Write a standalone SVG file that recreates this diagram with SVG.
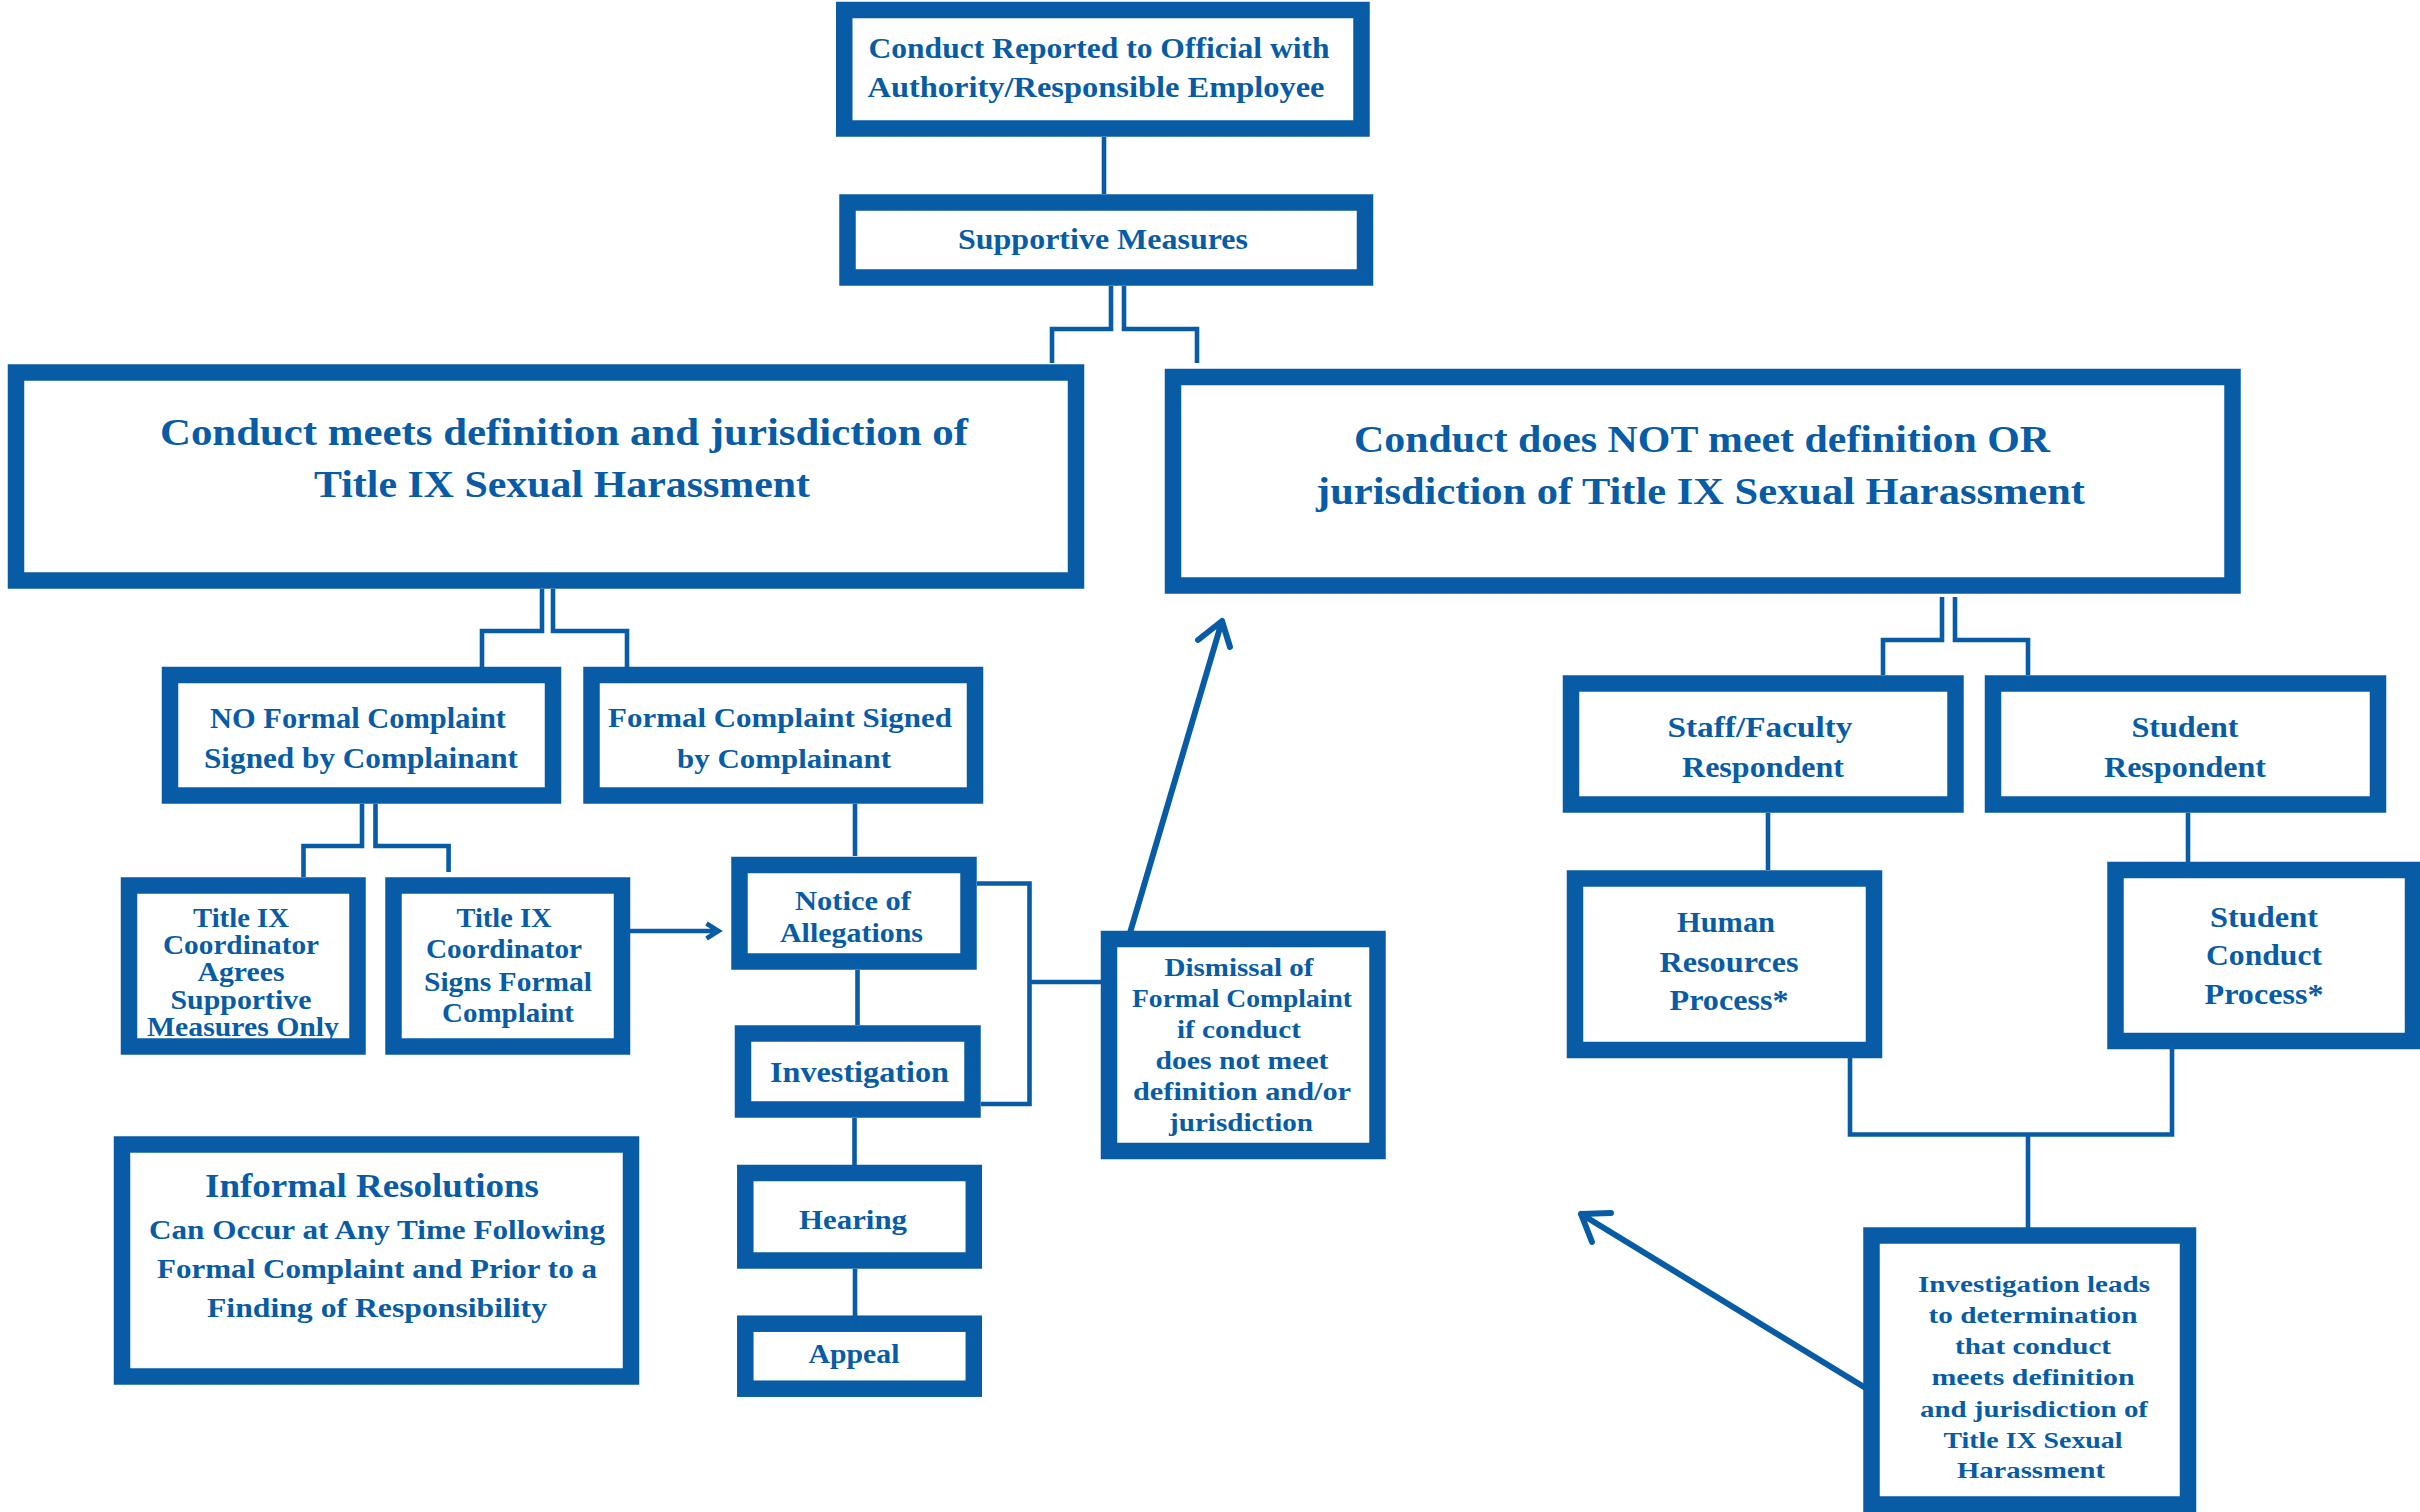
<svg xmlns="http://www.w3.org/2000/svg" width="2420" height="1512" viewBox="0 0 2420 1512">
<style>
.bx{fill:#ffffff;stroke:#085ca6;stroke-width:16.5}
.t{fill:#085ca6;font-family:"Liberation Serif","Times New Roman",serif;font-weight:bold;text-anchor:middle}
.c{fill:none;stroke:#085ca6;stroke-width:4.6}
.a{fill:none;stroke:#085ca6;stroke-width:6;stroke-linecap:round;stroke-linejoin:round}
</style>
<rect width="2420" height="1512" fill="#ffffff"/>
<g id="connectors">
<path class="c" d="M1104,137 V194" stroke-width="5"/>
<path class="c" d="M1111,286 V329 H1052 V363 M1124,286 V329 H1197 V363"/>
<path class="c" d="M542,589 V631 H482 V667 M553,589 V631 H627 V667"/>
<path class="c" d="M362,804 V846 H303.5 V877 M375.5,804 V846 H448.6 V872"/>
<path class="c" d="M1942,597 V640 H1883 V675 M1955,597 V640 H2028 V675"/>
<path class="c" d="M630,931 H718 M706.5,923.5 L718.5,931 L706.5,938.5" stroke-width="3"/>
<path class="c" d="M855,804 V856" stroke-width="5"/>
<path class="c" d="M857.5,970 V1025" stroke-width="5"/>
<path class="c" d="M854.5,1118 V1165" stroke-width="5"/>
<path class="c" d="M855,1269 V1316" stroke-width="5"/>
<path class="c" d="M977,883.5 H1029.5 V1104 H981" stroke-width="6"/>
<path class="c" d="M1029.5,982 H1102" stroke-width="7"/>
<path class="a" d="M1127,943 L1222,621 M1198,640 L1222,621 L1230,647"/>
<path class="c" d="M1768,813 V870" stroke-width="5.5"/>
<path class="c" d="M2188,813 V862" stroke-width="5.5"/>
<path class="c" d="M1850,1058 V1134.5 H2172 V1049" stroke-width="9"/>
<path class="c" d="M2028,1134.5 V1228" stroke-width="10"/>
<path class="a" d="M1864,1387 L1581,1214 M1611,1213 L1581,1214 L1592,1242"/>
</g>
<g id="n-reported">
<rect class="bx" x="844.25" y="10" width="517.25" height="118.5"/>
<text class="t" font-size="30" x="1099" y="58" textLength="461" lengthAdjust="spacingAndGlyphs">Conduct Reported to Official with</text>
<text class="t" font-size="30" x="1096" y="97" textLength="457" lengthAdjust="spacingAndGlyphs">Authority/Responsible Employee</text>
</g>
<g id="n-supportive">
<rect class="bx" x="847.5" y="202.5" width="517.5" height="75" stroke-width="17"/>
<text class="t" font-size="29" x="1103" y="249" textLength="290" lengthAdjust="spacingAndGlyphs">Supportive Measures</text>
</g>
<g id="n-meets">
<rect class="bx" x="16" y="372.5" width="1060" height="208" stroke-width="17"/>
<text class="t" font-size="37" x="564" y="445" textLength="808" lengthAdjust="spacingAndGlyphs">Conduct meets definition and jurisdiction of</text>
<text class="t" font-size="37" x="562" y="497" textLength="496" lengthAdjust="spacingAndGlyphs">Title IX Sexual Harassment</text>
</g>
<g id="n-notmeet">
<rect class="bx" x="1173" y="377" width="1059.5" height="208.5"/>
<text class="t" font-size="37" x="1702" y="452" textLength="696" lengthAdjust="spacingAndGlyphs">Conduct does NOT meet definition OR</text>
<text class="t" font-size="37" x="1700.5" y="504" textLength="769" lengthAdjust="spacingAndGlyphs">jurisdiction of Title IX Sexual Harassment</text>
</g>
<g id="n-noformal">
<rect class="bx" x="170" y="675" width="383" height="120.5" stroke-width="16"/>
<text class="t" font-size="29" x="358" y="728" textLength="296" lengthAdjust="spacingAndGlyphs">NO Formal Complaint</text>
<text class="t" font-size="29" x="361" y="768" textLength="314" lengthAdjust="spacingAndGlyphs">Signed by Complainant</text>
</g>
<g id="n-formalsigned">
<rect class="bx" x="591.5" y="675" width="383.5" height="120.5"/>
<text class="t" font-size="28" x="780" y="727" textLength="344" lengthAdjust="spacingAndGlyphs">Formal Complaint Signed</text>
<text class="t" font-size="28" x="784" y="768" textLength="214" lengthAdjust="spacingAndGlyphs">by Complainant</text>
</g>
<g id="n-agrees">
<rect class="bx" x="129" y="885.5" width="228.5" height="161"/>
<text class="t" font-size="28" x="241" y="927" textLength="96" lengthAdjust="spacingAndGlyphs">Title IX</text>
<text class="t" font-size="28" x="241" y="954" textLength="156" lengthAdjust="spacingAndGlyphs">Coordinator</text>
<text class="t" font-size="28" x="241" y="981" textLength="87" lengthAdjust="spacingAndGlyphs">Agrees</text>
<text class="t" font-size="28" x="241" y="1009" textLength="141" lengthAdjust="spacingAndGlyphs">Supportive</text>
<text class="t" font-size="28" x="243" y="1036" textLength="192" lengthAdjust="spacingAndGlyphs">Measures Only</text>
</g>
<g id="n-signs">
<rect class="bx" x="393.5" y="885.5" width="228.5" height="161"/>
<text class="t" font-size="28" x="504" y="927" textLength="95" lengthAdjust="spacingAndGlyphs">Title IX</text>
<text class="t" font-size="28" x="504" y="958" textLength="156" lengthAdjust="spacingAndGlyphs">Coordinator</text>
<text class="t" font-size="28" x="508" y="991" textLength="168" lengthAdjust="spacingAndGlyphs">Signs Formal</text>
<text class="t" font-size="28" x="508" y="1022" textLength="132" lengthAdjust="spacingAndGlyphs">Complaint</text>
</g>
<g id="n-notice">
<rect class="bx" x="739.5" y="865" width="229" height="96.5" stroke-width="17"/>
<text class="t" font-size="28" x="853" y="910" textLength="116" lengthAdjust="spacingAndGlyphs">Notice of</text>
<text class="t" font-size="28" x="851.5" y="942" textLength="143" lengthAdjust="spacingAndGlyphs">Allegations</text>
</g>
<g id="n-investigation">
<rect class="bx" x="743" y="1033.5" width="229.5" height="76" stroke-width="16.5"/>
<text class="t" font-size="29" x="859.5" y="1082" textLength="179" lengthAdjust="spacingAndGlyphs">Investigation</text>
</g>
<g id="n-hearing">
<rect class="bx" x="745.3" y="1173" width="228.5" height="87.5"/>
<text class="t" font-size="28" x="853" y="1229" textLength="108" lengthAdjust="spacingAndGlyphs">Hearing</text>
</g>
<g id="n-appeal">
<rect class="bx" x="745.3" y="1323.7" width="228.5" height="65"/>
<text class="t" font-size="28" x="854" y="1363" textLength="91" lengthAdjust="spacingAndGlyphs">Appeal</text>
</g>
<g id="n-dismissal">
<rect class="bx" x="1109" y="939" width="268.5" height="212" stroke-width="14.5"/>
<text class="t" font-size="26" x="1239" y="975.5" textLength="149" lengthAdjust="spacingAndGlyphs">Dismissal of</text>
<text class="t" font-size="26" x="1242" y="1006.5" textLength="220" lengthAdjust="spacingAndGlyphs">Formal Complaint</text>
<text class="t" font-size="26" x="1239" y="1038" textLength="124" lengthAdjust="spacingAndGlyphs">if conduct</text>
<text class="t" font-size="26" x="1242" y="1069" textLength="173" lengthAdjust="spacingAndGlyphs">does not meet</text>
<text class="t" font-size="26" x="1242" y="1100" textLength="218" lengthAdjust="spacingAndGlyphs">definition and/or</text>
<text class="t" font-size="26" x="1241" y="1131" textLength="144" lengthAdjust="spacingAndGlyphs">jurisdiction</text>
</g>
<g id="n-staff">
<rect class="bx" x="1571" y="683.5" width="384.5" height="121"/>
<text class="t" font-size="30" x="1760" y="737" textLength="185" lengthAdjust="spacingAndGlyphs">Staff/Faculty</text>
<text class="t" font-size="30" x="1763" y="777" textLength="162" lengthAdjust="spacingAndGlyphs">Respondent</text>
</g>
<g id="n-student">
<rect class="bx" x="1993" y="683.5" width="385" height="121"/>
<text class="t" font-size="30" x="2185" y="737" textLength="107" lengthAdjust="spacingAndGlyphs">Student</text>
<text class="t" font-size="30" x="2185" y="777" textLength="162" lengthAdjust="spacingAndGlyphs">Respondent</text>
</g>
<g id="n-hr">
<rect class="bx" x="1575" y="878.5" width="299" height="171.5"/>
<text class="t" font-size="30" x="1726" y="932" textLength="98" lengthAdjust="spacingAndGlyphs">Human</text>
<text class="t" font-size="30" x="1729" y="972" textLength="139" lengthAdjust="spacingAndGlyphs">Resources</text>
<text class="t" font-size="30" x="1729" y="1010" textLength="119" lengthAdjust="spacingAndGlyphs">Process*</text>
</g>
<g id="n-scp">
<rect class="bx" x="2115.5" y="870" width="297.5" height="171"/>
<text class="t" font-size="30" x="2264" y="927" textLength="108" lengthAdjust="spacingAndGlyphs">Student</text>
<text class="t" font-size="30" x="2264" y="965" textLength="116" lengthAdjust="spacingAndGlyphs">Conduct</text>
<text class="t" font-size="30" x="2264" y="1004" textLength="119" lengthAdjust="spacingAndGlyphs">Process*</text>
</g>
<g id="n-invleads">
<rect class="bx" x="1871.5" y="1235.5" width="316.5" height="269" stroke-width="15"/>
<text class="t" font-size="24" x="2034" y="1292" textLength="232" lengthAdjust="spacingAndGlyphs">Investigation leads</text>
<text class="t" font-size="24" x="2033" y="1323" textLength="209" lengthAdjust="spacingAndGlyphs">to determination</text>
<text class="t" font-size="24" x="2033" y="1354" textLength="156" lengthAdjust="spacingAndGlyphs">that conduct</text>
<text class="t" font-size="24" x="2033" y="1385" textLength="203" lengthAdjust="spacingAndGlyphs">meets definition</text>
<text class="t" font-size="24" x="2034" y="1417" textLength="228" lengthAdjust="spacingAndGlyphs">and jurisdiction of</text>
<text class="t" font-size="24" x="2033" y="1448" textLength="179" lengthAdjust="spacingAndGlyphs">Title IX Sexual</text>
<text class="t" font-size="24" x="2031" y="1478" textLength="148" lengthAdjust="spacingAndGlyphs">Harassment</text>
</g>
<g id="n-informal">
<rect class="bx" x="122" y="1144.5" width="509" height="232" stroke-width="17"/>
<text class="t" font-size="33" x="372" y="1197" textLength="334" lengthAdjust="spacingAndGlyphs">Informal Resolutions</text>
<text class="t" font-size="28" x="377" y="1239" textLength="456" lengthAdjust="spacingAndGlyphs">Can Occur at Any Time Following</text>
<text class="t" font-size="28" x="377" y="1278" textLength="440" lengthAdjust="spacingAndGlyphs">Formal Complaint and Prior to a</text>
<text class="t" font-size="28" x="377" y="1317" textLength="340" lengthAdjust="spacingAndGlyphs">Finding of Responsibility</text>
</g>
</svg>
